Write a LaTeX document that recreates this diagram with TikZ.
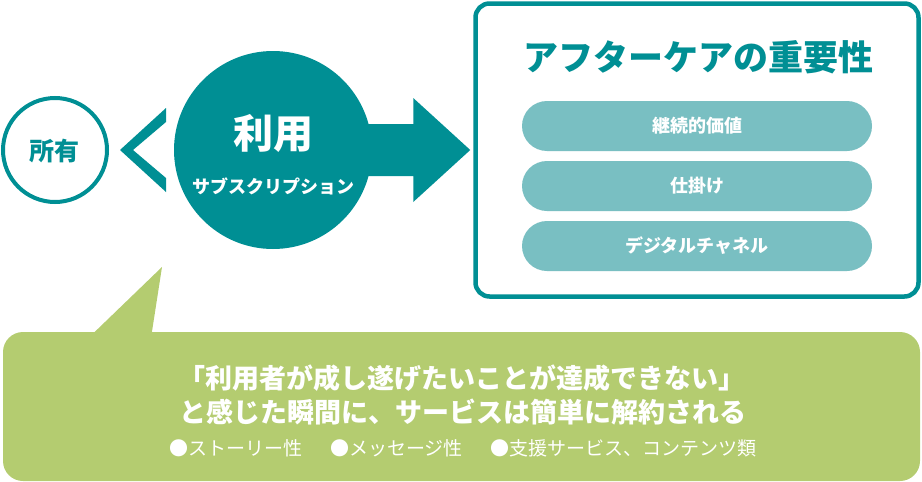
\documentclass[tikz,border=0pt]{standalone}
\usepackage{fontspec}
\setmainfont{Noto Sans CJK JP}
\usetikzlibrary{calc}
\definecolor{tealD}{RGB}{0,143,148}
\definecolor{tealL}{RGB}{121,191,194}
\definecolor{leaf}{RGB}{180,204,112}
\newcommand{\fs}[1]{\fontsize{#1}{#1}\selectfont}
\tikzset{
  ring/.style    ={circle, draw=tealD, line width=4pt, fill=white,
                   minimum size=104pt, inner sep=0pt},
  hub/.style     ={circle, fill=tealD, minimum size=198pt, inner sep=0pt},
  panel/.style   ={draw=tealD, line width=4.5pt, rounded corners=14pt,
                   fill=white, minimum width=443pt, minimum height=293pt,
                   inner sep=0pt},
  pill/.style    ={fill=tealL, rounded corners=25pt, minimum width=350pt,
                   minimum height=50pt, inner sep=0pt, text=white,
                   font=\bfseries\fs{18}},
  bubble/.style  ={fill=leaf, rounded corners=20pt, minimum width=917pt,
                   minimum height=149pt, inner sep=0pt},
  wtxt/.style    ={text=white, inner sep=0pt},
  ttxt/.style    ={text=tealD, inner sep=0pt},
}

\begin{document}
\begin{tikzpicture}[x=1pt, y=-1pt]
\useasboundingbox (0,0) rectangle (922,482);

% left: ownership vs use
\node[ring] (own) at (55,150) {};
\node[ttxt, font=\bfseries\fs{25}] (ownT) at (55,151) {所有};
\fill[tealD] (166,108) -- (120,150) -- (166,192) -- (166,178)
  -- (133,150) -- (166,122) -- cycle;

% right: after-care panel
\node[panel] (care) at (697,150) {};
\node[ttxt, font=\bfseries\fs{35}] (careT) at (698,57) {アフターケアの重要性};
\node[pill] (p1) at (697,126) {継続的価値};
\node[pill] (p2) at (697,186) {仕掛け};
\node[pill] (p3) at (697,246) {デジタルチャネル};

% centre: use + arrow
\node[hub] (use) at (273,150) {};
\coordinate (tip) at ($(care.west)+(-3,0)$);
\fill[tealD] ($(use.center)+(0,-26)$) -| ($(tip)+(-57,-52)$) -- (tip)
  -- ($(tip)+(-57,52)$) |- ($(use.center)+(0,26)$) -- cycle;
\node[wtxt, font=\bfseries\fs{40}] (useT) at (273,133) {利用};
\node[wtxt, font=\bfseries\fs{18}] (useS) at (273,186) {サブスクリプション};

% bottom: speech bubble
\node[bubble] (note) at (461.5,406.5) {};
\coordinate (tail) at (162,267);
\fill[leaf] ($(note.north west)+(91,1)$) -- (tail)
  -- ($(note.north west)+(149,1)$) -- cycle;
\node[wtxt, font=\bfseries\fs{27}] (n1) at (462,378)
  {「利用者が成し遂げたいことが達成できない」};
\node[wtxt, font=\bfseries\fs{27}] (n2) at (463,412)
  {と感じた瞬間に、サービスは簡単に解約される};
\node[wtxt, font=\fs{19}] (n3) at (463,448)
  {●ストーリー性\hspace{28pt}●メッセージ性\hspace{28pt}●支援サービス、コンテンツ類};

\end{tikzpicture}
\end{document}
